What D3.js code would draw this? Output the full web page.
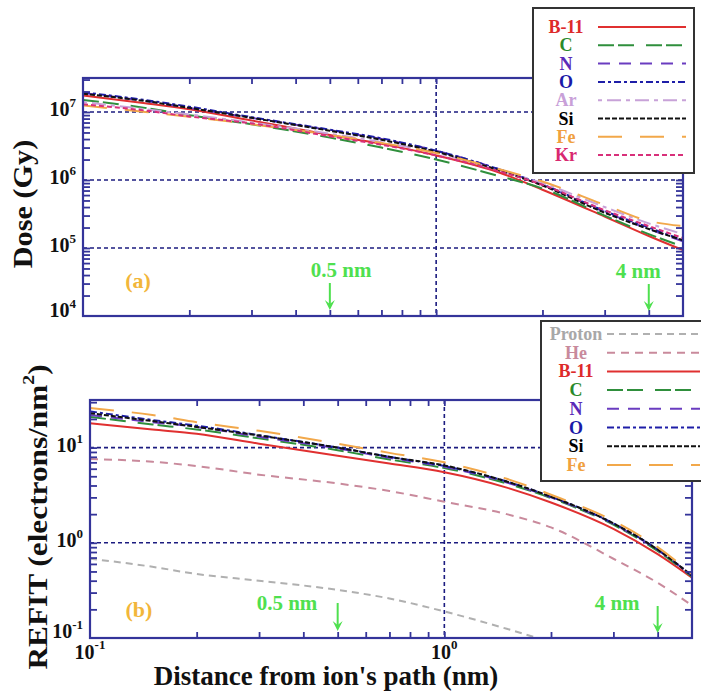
<!DOCTYPE html>
<html>
<head>
<meta charset="utf-8">
<script src="https://cdn.jsdelivr.net/npm/d3@7/dist/d3.min.js"></script>
<style>
  body { margin: 0; background: #fff; }
  svg text { font-family: "Liberation Serif", "DejaVu Serif", "Times New Roman", serif; font-weight: bold; }
</style>
</head>
<body>
<svg id="chart" width="701" height="694" font-family="Liberation Serif, DejaVu Serif, serif"></svg>
<script>
// distances (nm) where the curves were read
const distance = [0.1, 0.15, 0.2, 0.3, 0.5, 0.7, 1, 1.5, 2, 3, 4, 5];

// panel (a): dose (Gy)
const doseIons = ['B-11', 'C', 'N', 'O', 'Ar', 'Si', 'Fe', 'Kr'];
const doseB11 = [1.75e7, 1.35e7, 1.1e7, 7.5e6, 4.6e6, 3.4e6, 2.3e6, 1.3e6, 7.2e5, 2.9e5, 1.5e5, 9.3e4];
const doseC   = [1.5e7, 1.15e7, 9e6, 6.6e6, 4.2e6, 3.0e6, 2.0e6, 1.15e6, 7.5e5, 3.0e5, 1.6e5, 1.05e5];
const doseN   = [1.9e7, 1.45e7, 1.15e7, 8.2e6, 5.4e6, 4.0e6, 2.7e6, 1.45e6, 8.5e5, 3.4e5, 1.9e5, 1.25e5];
const doseO   = [1.95e7, 1.5e7, 1.2e7, 8.4e6, 5.5e6, 4.1e6, 2.7e6, 1.45e6, 8.6e5, 3.5e5, 2.0e5, 1.3e5];
const doseAr  = [1.4e7, 1.1e7, 9.2e6, 7e6, 4.8e6, 3.6e6, 2.5e6, 1.4e6, 9e5, 4.0e5, 2.3e5, 1.6e5];
const doseSi  = [1.85e7, 1.45e7, 1.15e7, 8.2e6, 5.3e6, 3.9e6, 2.6e6, 1.4e6, 8.3e5, 3.3e5, 1.9e5, 1.3e5];
const doseFe  = [1.25e7, 1.0e7, 8.5e6, 6.6e6, 4.6e6, 3.5e6, 2.5e6, 1.45e6, 9.5e5, 4.3e5, 2.5e5, 2.1e5];
const doseKr  = [1.3e7, 1.05e7, 8.6e6, 6.8e6, 4.4e6, 3.3e6, 2.3e6, 1.35e6, 8.5e5, 3.6e5, 2.1e5, 1.4e5];

// panel (b): REFIT (electrons/nm^2)
const refitIons = ['Proton', 'He', 'B-11', 'C', 'N', 'O', 'Si', 'Fe'];
const refitProton = [0.68, 0.56, 0.47, 0.4, 0.32, 0.26, 0.19, 0.125, 0.09, null, null, null];
const refitHe     = [7.6, 7.1, 6.4, 5.2, 4.2, 3.5, 2.7, 2.0, 1.45, 0.68, 0.38, 0.22];
const refitB11    = [18, 15.5, 14, 11, 8.2, 6.8, 5.5, 3.8, 2.65, 1.4, 0.76, 0.43];
const refitC      = [21, 17.5, 15.5, 12.5, 9.4, 7.5, 6.1, 4.2, 2.95, 1.55, 0.82, 0.44];
const refitN      = [22, 18.5, 16.5, 13, 9.8, 7.8, 6.3, 4.3, 3.0, 1.58, 0.84, 0.45];
const refitO      = [24, 19.5, 17, 13.5, 10, 8, 6.4, 4.4, 3.05, 1.6, 0.85, 0.45];
const refitSi     = [23, 19, 16.5, 13.4, 10, 8, 6.5, 4.4, 3.05, 1.6, 0.85, 0.45];
const refitFe     = [26, 22, 18.5, 15, 11, 8.8, 7, 4.7, 3.2, 1.7, 0.9, 0.47];

// axis tick exponents and marked distances
const xLabelExps = [-1, 0];
const doseLabelExps = [4, 5, 6, 7];
const refitLabelExps = [-1, 0, 1];
const markDist = [0.5, 4];

const ionStyle = {
  'Proton': { color: '#b0b0b0', text: '#a8a8a8', dash: '7,5' },
  'He':     { color: '#c98a9c', text: '#c88a9c', dash: '8,6' },
  'B-11':   { color: '#e03030', text: '#dd2a2a', dash: null },
  'C':      { color: '#2f8f3c', text: '#2a8a2a', dash: '16,4,16,12' },
  'N':      { color: '#6a3cc0', text: '#5a2ab8', dash: '12,9' },
  'O':      { color: '#1e1ea8', text: '#1a1aa8', dash: '7,3,3,3' },
  'Ar':     { color: '#c8a2d8', text: '#c8a0d8', dash: '4,5,14,5' },
  'Si':     { color: '#111111', text: '#000000', dash: '5,2' },
  'Fe':     { color: '#f2a84a', text: '#f0a040', dash: '24,18' },
  'Kr':     { color: '#d8307a', text: '#d82870', dash: '5,3' }
};

const AXIS = '#34349a';
const GRID = '#1c1c80';
const GREEN = '#4fe04f';
const GOLD = '#f2b63a';

const svg = d3.select('#chart');

const supLabel = (sel, exp, big, small, rise) => {
  sel.append('tspan').text('10').attr('font-size', big);
  sel.append('tspan').text(exp).attr('font-size', small).attr('dy', -rise);
};

const drawPanel = (cfg) => {
  const g = svg.append('g');
  const x = d3.scaleLog().domain([0.1, 5]).range([cfg.x0, cfg.x1]);
  const y = d3.scaleLog().domain(cfg.yDomain).range([cfg.y1, cfg.y0]);

  const clipId = 'clip-' + cfg.name;
  svg.append('clipPath').attr('id', clipId)
    .append('rect')
    .attr('x', cfg.x0).attr('y', cfg.y0)
    .attr('width', cfg.x1 - cfg.x0).attr('height', cfg.y1 - cfg.y0);

  // dotted grid at decades
  const decades = cfg.labelExps.map(e => Math.pow(10, e))
    .filter(v => v > cfg.yDomain[0] * 1.01 && v < cfg.yDomain[1]);
  g.append('g').selectAll('line').data(decades).join('line')
    .attr('x1', cfg.x0).attr('x2', cfg.x1)
    .attr('y1', d => y(d)).attr('y2', d => y(d))
    .attr('stroke', GRID).attr('stroke-width', 1.6).attr('stroke-dasharray', '4,3');
  g.append('line')
    .attr('x1', x(1)).attr('x2', x(1))
    .attr('y1', cfg.y0).attr('y2', cfg.y1)
    .attr('stroke', GRID).attr('stroke-width', 1.6).attr('stroke-dasharray', '4,3');

  // curves
  const line = d3.line()
    .defined(d => d[1] !== null)
    .x(d => x(d[0]))
    .y(d => y(d[1]))
    .curve(d3.curveMonotoneX);
  const curves = g.append('g').attr('clip-path', `url(#${clipId})`);
  cfg.series.forEach(s => {
    const st = ionStyle[s.ion];
    curves.append('path')
      .datum(distance.map((d, i) => [d, s.values[i]]))
      .attr('d', line)
      .attr('fill', 'none')
      .attr('stroke', st.color)
      .attr('stroke-width', 2)
      .attr('stroke-dasharray', st.dash);
  });

  // frame with inward minor ticks on all sides
  const xt = x.ticks().filter(v => v > 0.1 && v < 5);
  const yt = y.ticks().filter(v => v > cfg.yDomain[0] && v < cfg.yDomain[1]);
  const ax = (axis, tx, ty) => g.append('g')
    .attr('transform', `translate(${tx},${ty})`)
    .call(axis)
    .call(a => a.select('.domain').remove())
    .call(a => a.selectAll('line').attr('stroke', AXIS).attr('stroke-width', 1.8));
  ax(d3.axisBottom(x).tickValues(xt).tickSize(-6).tickFormat(''), 0, cfg.y1);
  ax(d3.axisTop(x).tickValues(xt).tickSize(-6).tickFormat(''), 0, cfg.y0);
  ax(d3.axisLeft(y).tickValues(yt).tickSize(-7).tickFormat(''), cfg.x0, 0);
  ax(d3.axisRight(y).tickValues(yt).tickSize(-7).tickFormat(''), cfg.x1, 0);
  g.append('rect')
    .attr('x', cfg.x0).attr('y', cfg.y0)
    .attr('width', cfg.x1 - cfg.x0).attr('height', cfg.y1 - cfg.y0)
    .attr('fill', 'none').attr('stroke', AXIS).attr('stroke-width', 2.2);

  // y tick labels
  g.append('g').selectAll('text').data(cfg.labelExps).join('text')
    .attr('x', cfg.x0 - 7)
    .attr('y', d => y(Math.pow(10, d)) + cfg.labelShift(d))
    .attr('text-anchor', 'end')
    .attr('fill', '#111')
    .each(function(d) { supLabel(d3.select(this), d, 20, 13, 9); });

  // panel tag and marked distances
  g.append('text')
    .attr('x', cfg.tag.x).attr('y', cfg.tag.y)
    .attr('text-anchor', 'middle')
    .attr('font-size', 22).attr('fill', GOLD)
    .text(cfg.tag.text);

  markDist.forEach((m, i) => {
    const ax0 = x(m);
    const mk = cfg.marks[i];
    g.append('text')
      .attr('x', ax0 + mk.dx).attr('y', mk.ty)
      .attr('text-anchor', 'start')
      .attr('font-size', 21).attr('fill', GREEN)
      .text(m + ' nm');
    g.append('line')
      .attr('x1', ax0).attr('x2', ax0)
      .attr('y1', mk.a0).attr('y2', mk.a1 - 4)
      .attr('stroke', GREEN).attr('stroke-width', 2);
    g.append('path')
      .attr('d', `M${ax0 - 5},${mk.a1 - 10}L${ax0},${mk.a1}L${ax0 + 5},${mk.a1 - 10}L${ax0},${mk.a1 - 6}Z`)
      .attr('fill', GREEN);
  });

  return { x, y };
};

const panelA = drawPanel({
  name: 'a',
  x0: 83, x1: 683, y0: 78, y1: 316,
  yDomain: [1e4, Math.pow(10, 7.5)],
  labelExps: doseLabelExps,
  labelShift: d => (d === 4 ? 1 : 4),
  series: doseIons.map((ion, i) => ({
    ion, values: [doseB11, doseC, doseN, doseO, doseAr, doseSi, doseFe, doseKr][i]
  })),
  tag: { text: '(a)', x: 138, y: 288 },
  marks: [{ dx: -19, ty: 277, a0: 283, a1: 310 }, { dx: -33, ty: 278, a0: 284, a1: 311 }]
});

const panelB = drawPanel({
  name: 'b',
  x0: 90, x1: 692, y0: 400, y1: 638,
  yDomain: [0.1, Math.pow(10, 1.5)],
  labelExps: refitLabelExps,
  labelShift: d => (d === -1 ? 0 : 4),
  series: refitIons.map((ion, i) => ({
    ion, values: [refitProton, refitHe, refitB11, refitC, refitN, refitO, refitSi, refitFe][i]
  })),
  tag: { text: '(b)', x: 139, y: 617 },
  marks: [{ dx: -81, ty: 610, a0: 603, a1: 631 }, { dx: -63, ty: 610, a0: 606, a1: 633 }]
});

// x tick labels under the lower panel
svg.append('g').selectAll('text').data(xLabelExps).join('text')
  .attr('x', d => panelB.x(Math.pow(10, d)))
  .attr('y', 659)
  .attr('text-anchor', 'middle')
  .attr('fill', '#111')
  .each(function(d) { supLabel(d3.select(this), d, 20, 13, 10); });

// axis titles
svg.append('text')
  .attr('x', 326).attr('y', 685)
  .attr('text-anchor', 'middle')
  .attr('font-size', 27).attr('fill', '#111')
  .text("Distance from ion's path (nm)");

svg.append('text')
  .attr('transform', 'translate(32,204) rotate(-90) scale(1.12,1)')
  .attr('text-anchor', 'middle')
  .attr('font-size', 27).attr('fill', '#111')
  .text('Dose (Gy)');

const refitTitle = svg.append('text')
  .attr('transform', 'translate(47,517) rotate(-90) scale(1.16,1)')
  .attr('text-anchor', 'middle')
  .attr('font-size', 27).attr('fill', '#111');
refitTitle.append('tspan').text('REFIT (electrons/nm');
refitTitle.append('tspan').text('2').attr('font-size', 17).attr('dy', -13);
refitTitle.append('tspan').text(')').attr('dy', 13);

// legends
const drawLegend = (ions, box) => {
  const g = svg.append('g');
  g.append('rect')
    .attr('x', box.x).attr('y', box.y)
    .attr('width', box.w).attr('height', box.h)
    .attr('fill', '#fff').attr('stroke', '#333').attr('stroke-width', 2);
  const row = g.selectAll('g.row').data(ions).join('g')
    .attr('class', 'row')
    .attr('transform', (d, i) => `translate(0,${box.first + i * box.step})`);
  row.append('text')
    .attr('x', box.tx).attr('y', 6)
    .attr('text-anchor', 'middle')
    .attr('font-size', 18)
    .attr('fill', d => ionStyle[d].text)
    .text(d => d);
  row.append('line')
    .attr('x1', box.l0).attr('x2', box.l1)
    .attr('y1', 0).attr('y2', 0)
    .attr('stroke', d => ionStyle[d].color)
    .attr('stroke-width', 2)
    .attr('stroke-dasharray', d => ionStyle[d].dash);
};

drawLegend(doseIons, { x: 533, y: 8, w: 161, h: 165, first: 27, step: 18.3, tx: 566, l0: 598, l1: 686 });
drawLegend(refitIons, { x: 541, y: 321, w: 162, h: 160, first: 334, step: 18.7, tx: 576, l0: 607, l1: 700 });
</script>
</body>
</html>
